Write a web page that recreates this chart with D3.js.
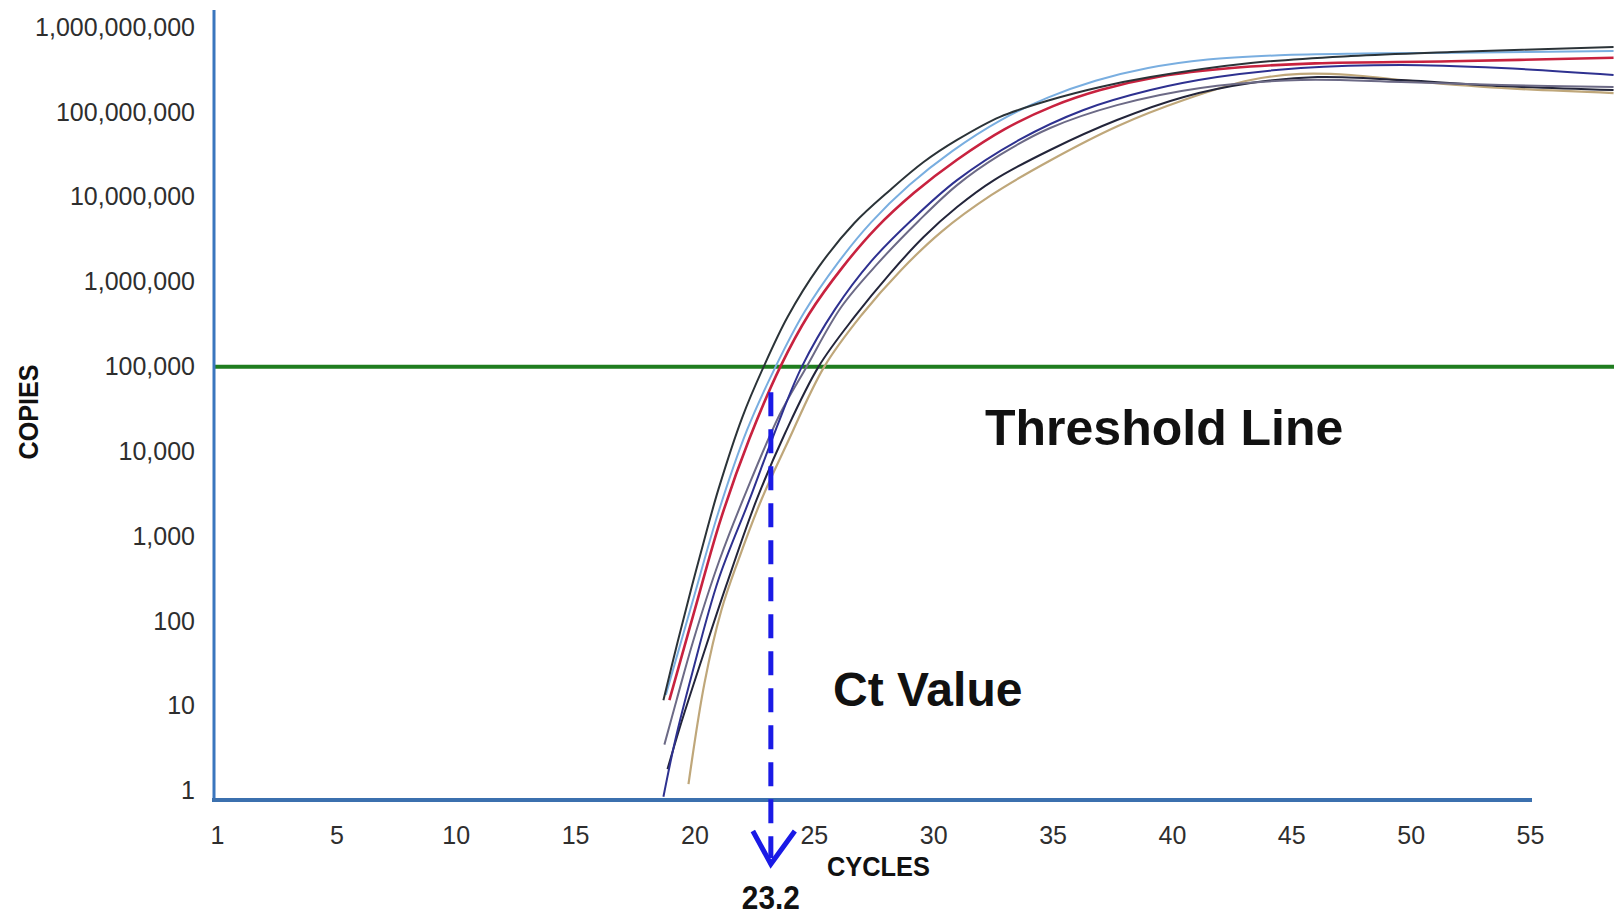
<!DOCTYPE html>
<html>
<head>
<meta charset="utf-8">
<script src="https://cdn.jsdelivr.net/npm/d3@7"></script>
<style>
  body { margin: 0; background: #fff; }
  svg { display: block; }
  text { font-family: "Liberation Sans", Arial, sans-serif; }
</style>
</head>
<body>
<div id="chart"></div>
<script>
// tick labels
var cycleTicks = [1, 5, 10, 15, 20, 25, 30, 35, 40, 45, 50, 55];
var copyTicks = [1, 10, 100, 1e3, 1e4, 1e5, 1e6, 1e7, 1e8, 1e9];

var threshold = 1e5;
var ctValue = 23.2;
var ctStart = 5e4;

// amplification curves: [cycle, copies]
var curveA = [[18.7, 11.7], [19.3, 57.5], [19.9, 263], [20.5, 1122], [21.0, 3548], [22.0, 2.51e4], [22.9, 1e5],
  [23.9, 3.85e5], [25.2, 1.49e6], [26.7, 4.93e6], [28.2, 1.21e7], [29.6, 2.58e7], [31.0, 4.7e7], [32.8, 8.8e7],
  [34.9, 1.39e8], [37.0, 1.98e8], [39.1, 2.59e8], [43.3, 3.79e8], [47.5, 4.59e8], [51.7, 5.12e8], [58.5, 5.86e8]];
var curveB = [[18.8, 13.5], [19.9, 162], [21.0, 1905], [22.2, 1.78e4], [23.4, 1e5], [24.6, 4.37e5], [26.0, 1.66e6],
  [27.4, 5.01e6], [29.0, 1.38e7], [30.8, 3.47e7], [32.8, 7.94e7], [34.8, 1.48e8], [36.8, 2.34e8], [39.0, 3.31e8],
  [41.5, 4.17e8], [44.5, 4.68e8], [48.0, 4.9e8], [52.0, 5.01e8], [58.5, 5.25e8]];
var curveC = [[18.95, 11.7], [20.0, 132], [21.1, 1585], [22.3, 1.41e4], [23.6, 1e5], [24.8, 4.17e5], [26.2, 1.48e6],
  [27.6, 4.27e6], [29.2, 1.12e7], [31.0, 2.75e7], [33.0, 6.31e7], [35.0, 1.17e8], [37.0, 1.82e8], [39.5, 2.63e8],
  [42.5, 3.31e8], [46.0, 3.76e8], [51.7, 3.98e8], [58.5, 4.37e8]];
var curveD = [[18.7, 0.85], [19.2, 4.0], [19.9, 24], [21.0, 305], [22.3, 2680], [23.4, 1.79e4], [24.5, 1e5],
  [25.9, 4.79e5], [27.4, 1.74e6], [29.1, 5.35e6], [31.0, 1.58e7], [33.6, 4.7e7], [36.3, 1.06e8], [39.1, 1.82e8],
  [41.9, 2.59e8], [45.4, 3.31e8], [49.6, 3.6e8], [53.8, 3.31e8], [58.5, 2.74e8]];
var curveE = [[18.74, 3.5], [19.25, 11.7], [19.96, 60], [21.05, 525], [22.2, 3520], [23.56, 2.69e4], [24.7, 1e5],
  [26.15, 5.05e5], [27.7, 1.67e6], [29.4, 5.25e6], [31.0, 1.38e7], [32.8, 3.13e7], [34.9, 6.5e7], [37.7, 1.21e8],
  [41.2, 1.93e8], [45.4, 2.39e8], [49.6, 2.26e8], [53.8, 2.09e8], [58.5, 1.98e8]];
var curveF = [[18.87, 1.8], [19.46, 6.5], [20.3, 35], [21.34, 267], [22.6, 2680], [23.8, 1.65e4], [25.2, 1e5],
  [26.7, 3.85e5], [28.2, 1.26e6], [29.6, 3.37e6], [31.0, 7.6e6], [32.55, 1.58e7], [34.9, 3.58e7], [37.7, 8.07e7],
  [40.5, 1.51e8], [43.3, 2.2e8], [46.1, 2.59e8], [49.6, 2.39e8], [53.8, 2.03e8], [58.5, 1.82e8]];
var curveG = [[19.75, 1.2], [20.42, 18.6], [21.13, 135], [21.84, 525], [22.8, 2680], [23.85, 1.19e4], [25.44, 1e5],
  [27.0, 4.06e5], [28.66, 1.38e6], [30.33, 3.86e6], [32.43, 1.05e7], [34.94, 2.73e7], [37.74, 6.87e7], [40.5, 1.39e8],
  [43.3, 2.39e8], [45.4, 2.82e8], [47.5, 2.74e8], [49.6, 2.39e8], [53.8, 1.93e8], [58.5, 1.68e8]];

var curves = [curveG, curveF, curveE, curveD, curveC, curveB, curveA];
var curveColors = ['#bfa77a', '#23253a', '#6c6a86', '#2e3190', '#c8223f', '#79aee0', '#2b3338'];
var curveWidths = [2.2, 2, 2, 2, 2.6, 2, 2];

var width = 1614, height = 916;

var svg = d3.select('#chart').append('svg')
    .attr('width', width)
    .attr('height', height);

var x = d3.scaleLinear().domain([0, 55]).range([217, 1530]);
var y = d3.scaleLog().domain([0.8, 1.6e9]).range([799, 10]);
var xLabels = d3.scalePoint().domain(cycleTicks).range([x(0), x(55)]);

var axisX = 214,
    axisY = y.range()[0] + 1;

// threshold
svg.append('line')
    .attr('x1', axisX).attr('x2', width)
    .attr('y1', y(threshold)).attr('y2', y(threshold))
    .attr('stroke', '#1f7d1f')
    .attr('stroke-width', 4);

// curves
var line = d3.line()
    .x(function(d) { return x(d[0]); })
    .y(function(d) { return y(d[1]); })
    .curve(d3.curveCatmullRom.alpha(0.5));

svg.append('g')
    .selectAll('path')
    .data(curves)
    .enter()
    .append('path')
    .attr('d', line)
    .attr('fill', 'none')
    .attr('stroke', function(d, i) { return curveColors[i]; })
    .attr('stroke-width', function(d, i) { return curveWidths[i]; })
    .attr('stroke-linejoin', 'round');

// axes
var yAxis = svg.append('g')
    .attr('transform', 'translate(' + axisX + ',0)')
    .call(d3.axisLeft(y).tickValues(copyTicks).tickFormat(d3.format(',')).tickSize(0).tickPadding(19));

var xAxis = svg.append('g')
    .attr('transform', 'translate(0,' + axisY + ')')
    .call(d3.axisBottom(xLabels).tickSize(0).tickPadding(26));

[yAxis, xAxis].forEach(function(g) {
    g.select('.domain').remove();
    g.selectAll('text')
        .attr('font-family', '"Liberation Sans", Arial, sans-serif')
        .attr('font-size', 25)
        .attr('fill', '#2e2e2e');
});

svg.append('line')
    .attr('x1', axisX).attr('x2', axisX)
    .attr('y1', y.range()[1]).attr('y2', axisY)
    .attr('stroke', '#3a76be')
    .attr('stroke-width', 3);

svg.append('line')
    .attr('x1', axisX - 2).attr('x2', x(55) + 2)
    .attr('y1', axisY).attr('y2', axisY)
    .attr('stroke', '#3b70ae')
    .attr('stroke-width', 4);

// Ct marker
var ctX = x(ctValue),
    tipY = axisY + 64;

svg.append('line')
    .attr('x1', ctX).attr('x2', ctX)
    .attr('y1', y(ctStart)).attr('y2', tipY - 6)
    .attr('stroke', '#1a1ae6')
    .attr('stroke-width', 5)
    .attr('stroke-dasharray', '24,13');

svg.append('polyline')
    .attr('points', [[ctX - 18, tipY - 33], [ctX, tipY], [ctX + 24, tipY - 33]].join(' '))
    .attr('fill', 'none')
    .attr('stroke', '#1a1ae6')
    .attr('stroke-width', 5);

svg.append('text')
    .attr('x', ctX)
    .attr('y', tipY + 45)
    .attr('text-anchor', 'middle')
    .attr('font-size', 34)
    .attr('font-weight', 'bold')
    .attr('textLength', 58)
    .attr('lengthAdjust', 'spacingAndGlyphs')
    .attr('fill', '#111')
    .text(ctValue);

// titles
svg.append('text')
    .attr('x', 827)
    .attr('y', axisY + 76)
    .attr('font-size', 27)
    .attr('font-weight', 'bold')
    .attr('textLength', 103)
    .attr('lengthAdjust', 'spacingAndGlyphs')
    .attr('fill', '#111')
    .text('CYCLES');

svg.append('text')
    .attr('transform', 'translate(38,412) rotate(-90)')
    .attr('text-anchor', 'middle')
    .attr('font-size', 27)
    .attr('font-weight', 'bold')
    .attr('textLength', 95)
    .attr('lengthAdjust', 'spacingAndGlyphs')
    .attr('fill', '#111')
    .text('COPIES');

svg.append('text')
    .attr('x', 985)
    .attr('y', 445)
    .attr('font-size', 50)
    .attr('font-weight', 'bold')
    .attr('fill', '#111')
    .text('Threshold Line');

svg.append('text')
    .attr('x', 833)
    .attr('y', 706)
    .attr('font-size', 48)
    .attr('font-weight', 'bold')
    .attr('fill', '#111')
    .text('Ct Value');
</script>
</body>
</html>
